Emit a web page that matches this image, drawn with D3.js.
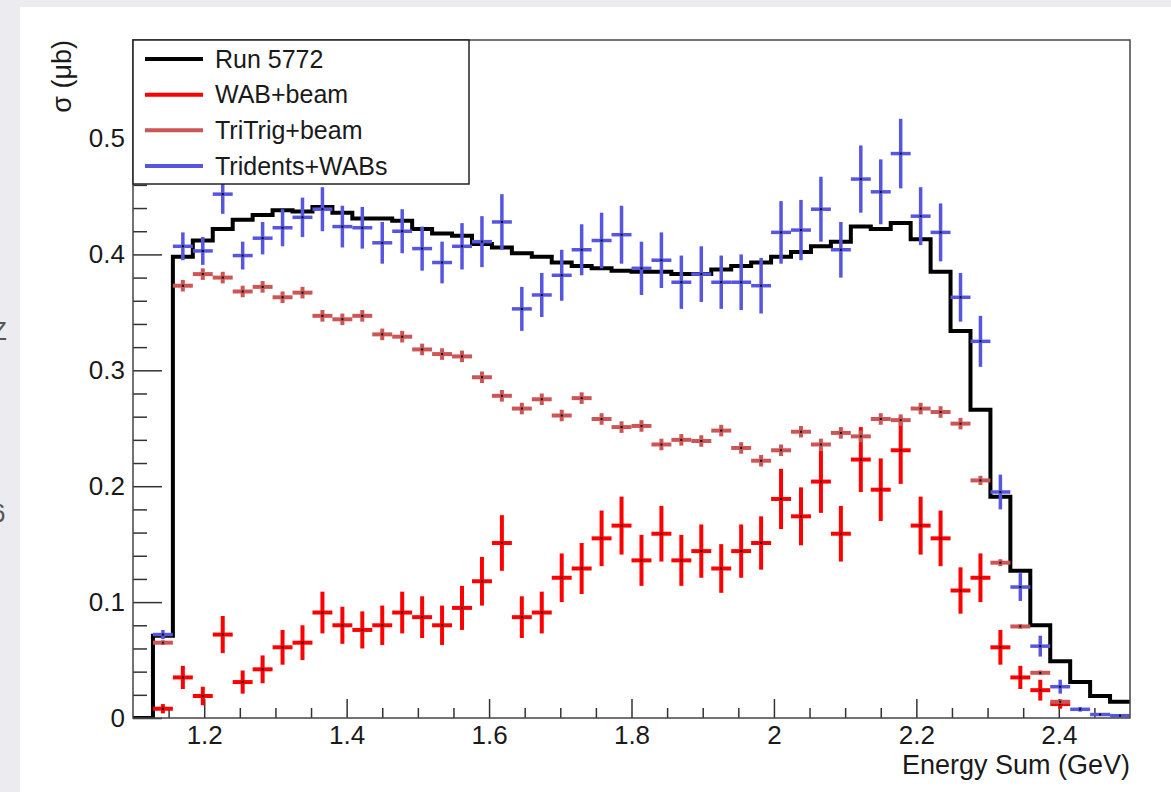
<!DOCTYPE html>
<html>
<head>
<meta charset="utf-8">
<script src="https://cdn.jsdelivr.net/npm/d3@7/dist/d3.min.js"></script>
<style>
body { margin: 0; background: #ececf0; }
svg { display: block; }
text { font-family: "Liberation Sans", Arial, Helvetica, sans-serif; fill: #1a1a1a; }
</style>
</head>
<body>
<div id="chart"></div>
<script>
// binning: 50 bins of 0.028 GeV from 1.1 to 2.5
var xMin = 1.1, xMax = 2.5, nBins = 50;
var binWidth = (xMax - xMin) / nBins;

var xTicks = [1.2, 1.4, 1.6, 1.8, 2.0, 2.2, 2.4];
var xTickLabels = ["1.2", "1.4", "1.6", "1.8", "2", "2.2", "2.4"];
var yTicks = [0, 0.1, 0.2, 0.3, 0.4, 0.5];
var yTickLabels = ["0", "0.1", "0.2", "0.3", "0.4", "0.5"];

var seriesNames = ["Run 5772", "WAB+beam", "TriTrig+beam", "Tridents+WABs"];

// Run 5772 (black histogram)
var runData = [0, 0.071, 0.398, 0.412, 0.422, 0.430, 0.434, 0.438, 0.437, 0.441,
	0.436, 0.431, 0.431, 0.429, 0.422, 0.418, 0.416, 0.409, 0.406, 0.401,
	0.398, 0.393, 0.390, 0.388, 0.386, 0.385, 0.385, 0.383, 0.383, 0.387,
	0.390, 0.393, 0.398, 0.402, 0.407, 0.411, 0.424, 0.422, 0.427, 0.413,
	0.385, 0.334, 0.266, 0.191, 0.127, 0.080, 0.049, 0.031, 0.019, 0.014];

// WAB+beam
var wabValues = [0, 0.008, 0.035, 0.019, 0.072, 0.031, 0.042, 0.061, 0.065, 0.091,
	0.080, 0.076, 0.080, 0.091, 0.087, 0.080, 0.095, 0.118, 0.151, 0.087,
	0.091, 0.121, 0.129, 0.155, 0.166, 0.136, 0.159, 0.136, 0.144, 0.129,
	0.144, 0.151, 0.189, 0.174, 0.204, 0.159, 0.223, 0.197, 0.231, 0.166,
	0.155, 0.110, 0.121, 0.061, 0.035, 0.024, 0.012, 0, 0, 0];
var wabErrors = [0, 0.004, 0.010, 0.008, 0.016, 0.010, 0.012, 0.015, 0.015, 0.018,
	0.016, 0.016, 0.017, 0.018, 0.018, 0.017, 0.019, 0.021, 0.024, 0.018,
	0.018, 0.021, 0.022, 0.024, 0.025, 0.022, 0.024, 0.022, 0.023, 0.021,
	0.023, 0.023, 0.026, 0.025, 0.027, 0.024, 0.028, 0.027, 0.029, 0.025,
	0.024, 0.020, 0.021, 0.015, 0.010, 0.009, 0.004, 0, 0, 0];

// TriTrig+beam
var triValues = [0, 0.065, 0.373, 0.383, 0.380, 0.368, 0.372, 0.363, 0.367, 0.347,
	0.344, 0.347, 0.331, 0.329, 0.318, 0.314, 0.312, 0.294, 0.278, 0.267,
	0.275, 0.261, 0.276, 0.258, 0.251, 0.252, 0.236, 0.240, 0.239, 0.248,
	0.233, 0.222, 0.231, 0.247, 0.236, 0.246, 0.243, 0.258, 0.257, 0.267,
	0.264, 0.254, 0.205, 0.134, 0.079, 0.039, 0.014, 0, 0, 0];
var triErrors = [0, 0.002, 0.005, 0.005, 0.005, 0.005, 0.005, 0.005, 0.005, 0.005,
	0.005, 0.005, 0.005, 0.005, 0.005, 0.005, 0.005, 0.005, 0.005, 0.005,
	0.005, 0.005, 0.005, 0.005, 0.005, 0.005, 0.005, 0.005, 0.005, 0.005,
	0.005, 0.005, 0.005, 0.005, 0.005, 0.005, 0.005, 0.005, 0.005, 0.005,
	0.005, 0.005, 0.004, 0.003, 0.002, 0.002, 0.001, 0, 0, 0];

// Tridents+WABs
var sumValues = [0, 0.072, 0.407, 0.403, 0.452, 0.399, 0.414, 0.423, 0.432, 0.439,
	0.424, 0.423, 0.410, 0.420, 0.405, 0.393, 0.407, 0.411, 0.428, 0.353,
	0.365, 0.382, 0.404, 0.412, 0.417, 0.388, 0.395, 0.376, 0.383, 0.376,
	0.376, 0.373, 0.419, 0.421, 0.439, 0.404, 0.465, 0.454, 0.487, 0.433,
	0.419, 0.363, 0.325, 0.195, 0.113, 0.062, 0.027, 0.0075, 0.003, 0.002];
var sumErrors = [0, 0.004, 0.012, 0.012, 0.017, 0.012, 0.014, 0.016, 0.017, 0.019,
	0.018, 0.018, 0.018, 0.019, 0.019, 0.018, 0.020, 0.022, 0.024, 0.019,
	0.019, 0.022, 0.022, 0.024, 0.025, 0.023, 0.024, 0.023, 0.024, 0.023,
	0.024, 0.024, 0.027, 0.026, 0.028, 0.024, 0.029, 0.028, 0.030, 0.025,
	0.025, 0.021, 0.022, 0.015, 0.012, 0.009, 0.006, 0.002, 0.001, 0.001];

var colors = ["#000000", "#ff0000", "#cc5656", "#5656e0"];

var W = 1171, H = 792;
var plot = {left: 133, right: 1130, top: 40, bottom: 718};

var svg = d3.select("#chart").append("svg")
	.attr("width", W)
	.attr("height", H);

// slide background behind the canvas
svg.append("rect").attr("width", W).attr("height", H).attr("fill", "#ececf0");
svg.append("text").attr("x", -9).attr("y", 340).style("font-size", "26px").style("fill", "#555").text("Z");
svg.append("text").attr("x", -9).attr("y", 522).style("font-size", "26px").style("fill", "#555").text("6");
svg.append("rect").attr("x", 20).attr("y", 7).attr("width", W - 20).attr("height", H - 7).attr("fill", "#fff");

var x = d3.scaleLinear().domain([xMin, xMax]).range([plot.left, plot.right]);
var y = d3.scaleLinear().domain([0, 0.585]).range([plot.bottom, plot.top]);

svg.append("clipPath").attr("id", "clip")
	.append("rect")
	.attr("x", plot.left).attr("y", plot.top)
	.attr("width", plot.right - plot.left).attr("height", plot.bottom - plot.top);

var bins = d3.range(nBins).map(function(i) {
	var lo = xMin + i * binWidth;
	return {lo: lo, hi: lo + binWidth, c: lo + binWidth / 2};
});

// minor ticks
var xMinor = d3.range(1.15, 2.5, 0.05).filter(function(d) {
	return Math.abs(d * 5 - Math.round(d * 5)) > 1e-6;
});
var yMinor = d3.range(0.02, 0.585, 0.02).filter(function(d) {
	return Math.abs(d * 10 - Math.round(d * 10)) > 1e-6;
});

function styleAxis(g) {
	g.select(".domain").remove();
	g.selectAll("line").attr("stroke", "#333").attr("stroke-width", 1.5);
	g.selectAll("text").style("font-size", "26px").style("fill", "#1a1a1a")
		.attr("font-family", null);
}

svg.append("g")
	.attr("transform", "translate(0," + plot.bottom + ")")
	.call(d3.axisBottom(x).tickValues(xMinor).tickSizeInner(-10).tickSizeOuter(0).tickFormat(""))
	.call(styleAxis);
svg.append("g")
	.attr("transform", "translate(0," + plot.bottom + ")")
	.call(d3.axisBottom(x).tickValues(xTicks).tickSizeInner(-19).tickSizeOuter(0).tickPadding(8)
		.tickFormat(function(d, i) { return xTickLabels[i]; }))
	.call(styleAxis);

svg.append("g")
	.attr("transform", "translate(" + plot.left + ",0)")
	.call(d3.axisLeft(y).tickValues(yMinor).tickSizeInner(-14).tickSizeOuter(0).tickFormat(""))
	.call(styleAxis);
svg.append("g")
	.attr("transform", "translate(" + plot.left + ",0)")
	.call(d3.axisLeft(y).tickValues(yTicks).tickSizeInner(-29).tickSizeOuter(0).tickPadding(8)
		.tickFormat(function(d, i) { return yTickLabels[i]; }))
	.call(styleAxis);

var data = svg.append("g").attr("clip-path", "url(#clip)");

// histogram of the run
var histPts = bins.map(function(b, i) { return [x(b.lo), y(runData[i])]; });
histPts.push([x(xMax), y(runData[nBins - 1])]);
data.append("path")
	.attr("d", d3.line().curve(d3.curveStepAfter)(histPts))
	.attr("fill", "none")
	.attr("stroke", colors[0])
	.attr("stroke-width", 4);

function drawPoints(vals, errs, color, width) {
	var pts = bins.map(function(b, i) {
		return {b: b, v: vals[i], e: errs[i]};
	}).filter(function(d) { return d.v > 0; });
	var g = data.append("g");
	g.selectAll("line.h").data(pts).enter().append("line")
		.attr("x1", function(d) { return x(d.b.lo); })
		.attr("x2", function(d) { return x(d.b.hi); })
		.attr("y1", function(d) { return y(d.v); })
		.attr("y2", function(d) { return y(d.v); })
		.attr("stroke", color).attr("stroke-width", width);
	g.selectAll("line.v").data(pts.filter(function(d) { return d.e > 0; })).enter().append("line")
		.attr("x1", function(d) { return x(d.b.c); })
		.attr("x2", function(d) { return x(d.b.c); })
		.attr("y1", function(d) { return y(Math.max(0, d.v - d.e)); })
		.attr("y2", function(d) { return y(d.v + d.e); })
		.attr("stroke", color).attr("stroke-width", width);
	g.selectAll("rect").data(pts).enter().append("rect")
		.attr("x", function(d) { return x(d.b.c) - 1; })
		.attr("y", function(d) { return y(d.v) - 1; })
		.attr("width", 2).attr("height", 2)
		.attr("fill", "#000");
}

drawPoints(wabValues, wabErrors, colors[1], 4);
drawPoints(triValues, triErrors, colors[2], 4);
drawPoints(sumValues, sumErrors, colors[3], 3.5);

// frame
svg.append("rect")
	.attr("x", plot.left).attr("y", plot.top)
	.attr("width", plot.right - plot.left).attr("height", plot.bottom - plot.top)
	.attr("fill", "none").attr("stroke", "#444").attr("stroke-width", 1.5);

// legend
var legend = svg.append("g");
legend.append("rect")
	.attr("x", plot.left).attr("y", plot.top)
	.attr("width", 336).attr("height", 144)
	.attr("fill", "#fff").attr("stroke", "#222").attr("stroke-width", 1.5);
var legendY = d3.scalePoint().domain(seriesNames).range([59, 166]);
seriesNames.forEach(function(name, i) {
	legend.append("line")
		.attr("x1", 145).attr("x2", 203)
		.attr("y1", legendY(name)).attr("y2", legendY(name))
		.attr("stroke", colors[i]).attr("stroke-width", 4);
	legend.append("text")
		.attr("x", 215).attr("y", legendY(name)).attr("dy", "0.35em")
		.style("font-size", "25px")
		.text(name);
});

// axis titles
svg.append("text")
	.attr("x", plot.right).attr("y", 774)
	.attr("text-anchor", "end")
	.style("font-size", "27px")
	.text("Energy Sum (GeV)");
svg.append("text")
	.attr("transform", "translate(71," + plot.top + ") rotate(-90)")
	.attr("text-anchor", "end")
	.style("font-size", "27px")
	.text("σ (μb)");
</script>
</body>
</html>
